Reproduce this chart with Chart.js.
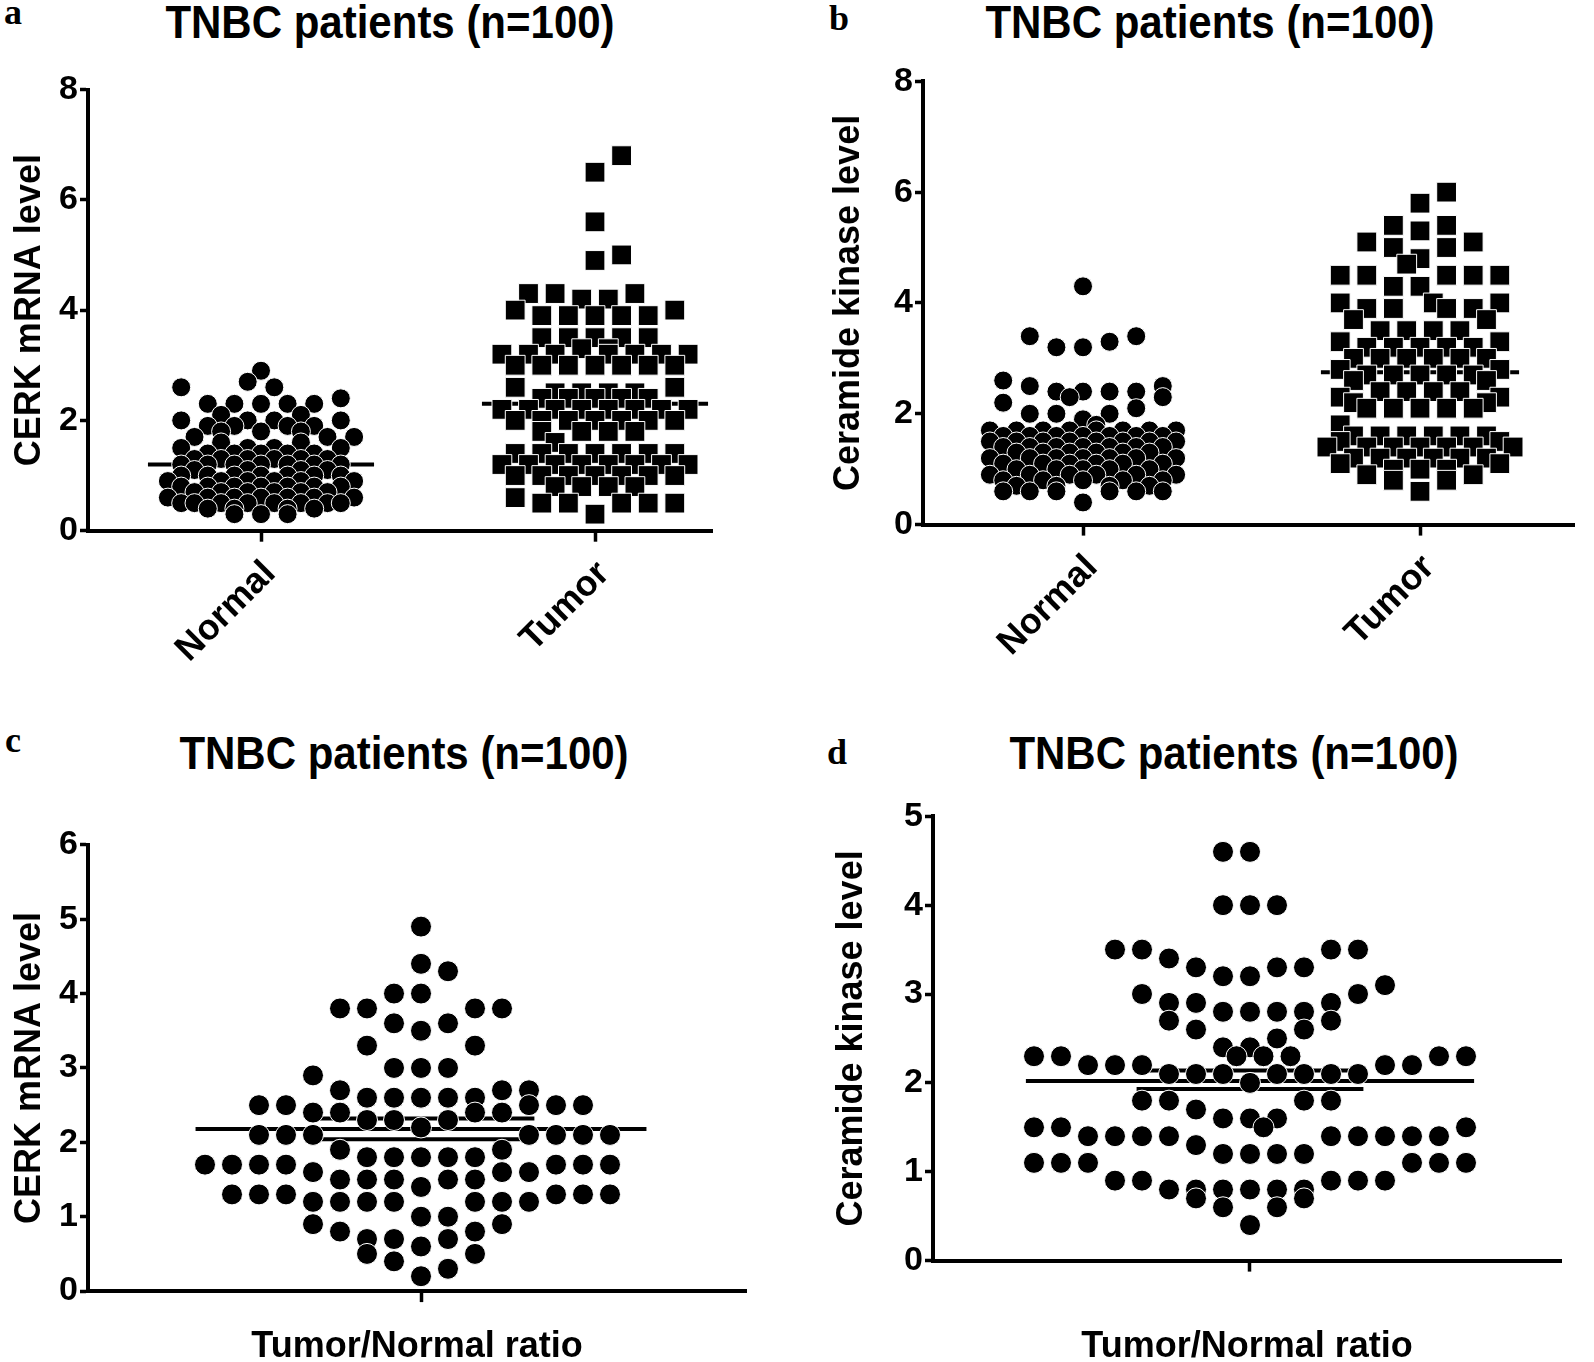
<!DOCTYPE html>
<html><head><meta charset="utf-8">
<script src="https://cdn.jsdelivr.net/npm/chart.js@4.4.0/dist/chart.umd.min.js"></script>
<style>
html,body{margin:0;padding:0;background:#fff;width:1594px;height:1362px;overflow:hidden;position:relative;}
canvas{position:absolute;}
.t{position:absolute;font-family:"Liberation Sans",Arial,sans-serif;font-weight:bold;font-size:46px;color:#000;white-space:nowrap;transform:translate(-50%,-50%) scale(0.913,1);}
.l{position:absolute;font-family:"Liberation Serif","Times New Roman",serif;font-weight:bold;font-size:36px;color:#000;transform:translate(-50%,-50%);}
</style></head><body>
<div class="l" style="left:13px;top:12px">a</div>
<div class="l" style="left:839px;top:18px">b</div>
<div class="l" style="left:13px;top:740px">c</div>
<div class="l" style="left:837px;top:752px">d</div>
<div class="t" style="left:390px;top:22px">TNBC patients (n=100)</div>
<div class="t" style="left:1210px;top:22px">TNBC patients (n=100)</div>
<div class="t" style="left:404px;top:753px">TNBC patients (n=100)</div>
<div class="t" style="left:1234px;top:753px">TNBC patients (n=100)</div>
<script>
// ---------------- DATA ----------------
const groups = ['Normal', 'Tumor'];

// Panel a: CERK mRNA level
const aYTicks = [0, 2, 4, 6, 8];
const aNormalValues = [
 2.9, 2.7, 2.6, 2.6, 2.4,
 2.3, 2.3, 2.3, 2.3, 2.3,
 2.1, 2.1, 2.0, 2.0, 2.0, 2.0,
 1.9, 1.9, 1.9, 1.9, 1.8, 1.8, 1.8,
 1.7, 1.7, 1.7, 1.6, 1.6, 1.5, 1.5, 1.5, 1.5,
 1.4, 1.4, 1.4, 1.4, 1.4,
 1.3, 1.3, 1.3, 1.3, 1.3, 1.3,
 1.2, 1.2, 1.2, 1.2, 1.2, 1.2, 1.2,
 1.1, 1.1, 1.1, 1.1,
 1.0, 1.0, 1.0, 1.0, 1.0, 1.0, 1.0,
 0.9, 0.9, 0.9, 0.9, 0.9, 0.9,
 0.8, 0.8, 0.8, 0.8, 0.8, 0.8, 0.8,
 0.7, 0.7, 0.7, 0.7, 0.7, 0.7,
 0.6, 0.6, 0.6, 0.6, 0.6, 0.6, 0.6,
 0.5, 0.5, 0.5, 0.5, 0.5, 0.5, 0.5, 0.5,
 0.4, 0.4, 0.4, 0.4, 0.3, 0.3, 0.3
];
const aNormalSlots = [
 0, -1, -6, 1, 6,
 -4, -2, 0, 2, 4,
 -3, 3, -6, -1, 1, 6,
 -4, -2, 2, 4, -3, 0, 3,
 -5, 5, 7, -3, 3, -6, -1, 1, 6,
 -4, -2, 0, 2, 4,
 -5, -3, -1, 1, 3, 5,
 -6, -4, -2, 0, 2, 4, 6,
 -5, -1, 3, 5,
 -6, -4, -2, 0, 2, 4, 6,
 -7, -3, -1, 1, 3, 7,
 -6, -4, -2, 0, 2, 4, 6,
 -5, -3, -1, 1, 3, 5,
 -7, -4, -2, 0, 2, 4, 7,
 -6, -5, -3, -1, 1, 3, 5, 6,
 -4, -2, 2, 4, -2, 0, 2
];
const aTumorValues = [
 6.8, 6.5, 5.6, 5.0, 4.9,
 4.3, 4.3, 4.3, 4.2, 4.2,
 4.0, 4.0, 3.9, 3.9, 3.9, 3.9, 3.9,
 3.5, 3.5, 3.5, 3.5, 3.5,
 3.3, 3.3, 3.2, 3.2, 3.2, 3.2, 3.2, 3.2, 3.2,
 3.0, 3.0, 3.0, 3.0, 3.0, 3.0, 3.0,
 2.6, 2.6, 2.5, 2.5, 2.5, 2.5,
 2.4, 2.4, 2.4, 2.4, 2.4,
 2.2, 2.2, 2.2, 2.2, 2.2, 2.2, 2.2, 2.2,
 2.0, 2.0, 2.0, 2.0, 2.0, 2.0, 2.0,
 1.8, 1.8, 1.8, 1.8, 1.6,
 1.4, 1.4, 1.4, 1.4, 1.4, 1.4, 1.4,
 1.2, 1.2, 1.2, 1.2, 1.2, 1.2, 1.2, 1.2,
 1.0, 1.0, 1.0, 1.0, 1.0, 1.0, 1.0,
 0.8, 0.8, 0.8, 0.8, 0.6, 0.5, 0.5, 0.5, 0.5, 0.5, 0.3
];
const aTumorSlots = [
 2, 0, 0, 2, 0,
 -5, -3, 3, -1, 1,
 -6, 6, -4, -2, 0, 2, 4,
 -4, -2, 0, 2, 4,
 -1, 1, -7, -5, -3, 1, 3, 5, 7,
 -6, -4, -2, 0, 2, 4, 6,
 -6, 6, -3, -1, 1, 3,
 -4, -2, 0, 2, 4,
 -7, -5, -3, -1, 1, 3, 5, 7,
 -6, -4, -2, 0, 2, 4, 6,
 -4, -1, 1, 3, -3,
 -6, -4, -2, 0, 2, 4, 6,
 -7, -5, -3, -1, 1, 3, 5, 7,
 -6, -4, -2, 0, 2, 4, 6,
 -3, -1, 1, 3, -6, -4, -2, 2, 4, 6, 0
];
const aMeans = [1.2, 2.3];

// Panel b: Ceramide kinase level
const bYTicks = [0, 2, 4, 6, 8];
const bNormalValues = [
 4.3, 3.4, 3.4, 3.3, 3.2, 3.2,
 2.6, 2.5, 2.5, 2.4, 2.4, 2.4, 2.4, 2.3, 2.3,
 2.2, 2.1, 2.0, 2.0, 2.0, 1.9, 1.8,
 1.7, 1.7, 1.7, 1.7, 1.7, 1.7, 1.7, 1.7,
 1.6, 1.6, 1.6, 1.6, 1.6, 1.6, 1.6,
 1.5, 1.5, 1.5, 1.5, 1.5, 1.5, 1.5, 1.5,
 1.4, 1.4, 1.4, 1.4, 1.4, 1.4, 1.4,
 1.3, 1.3, 1.3, 1.3, 1.3, 1.3,
 1.2, 1.2, 1.2, 1.2, 1.2, 1.2, 1.2,
 1.1, 1.1, 1.1, 1.1, 1.1, 1.1,
 1.0, 1.0, 1.0, 1.0, 1.0,
 0.9, 0.9, 0.9, 0.9, 0.9, 0.9,
 0.8, 0.8, 0.8, 0.8, 0.8,
 0.7, 0.7, 0.7, 0.7,
 0.6, 0.6, 0.6, 0.6, 0.6, 0.6,
 0.4
];
const bNormalSlots = [
 0, -4, 4, 2, -2, 0,
 -6, -4, 6, -2, 0, 2, 4, -1, 6,
 -6, 4, -4, -2, 2, 0, 1,
 -7, -5, -3, -1, 1, 3, 5, 7,
 -6, -4, -2, 0, 2, 4, 6,
 -7, -5, -3, -1, 1, 3, 5, 7,
 -6, -4, -2, 0, 2, 4, 6,
 -5, -3, -1, 1, 3, 5,
 -7, -4, -2, 0, 2, 4, 7,
 -6, -3, -1, 1, 3, 6,
 -5, -2, 0, 2, 5,
 -7, -4, -1, 1, 4, 7,
 -6, -3, 0, 3, 6,
 -5, -2, 2, 5,
 -6, -4, -2, 2, 4, 6,
 0
];
const bTumorValues = [
 6.0, 5.8, 5.4, 5.4, 5.3,
 5.1, 5.1, 5.0, 5.0, 4.8, 4.7,
 4.5, 4.5, 4.5, 4.5, 4.5,
 4.3, 4.3, 4.0, 4.0, 4.0,
 3.9, 3.9, 3.9, 3.9, 3.7, 3.7,
 3.5, 3.5, 3.5, 3.5, 3.3, 3.3,
 3.2, 3.2, 3.2, 3.2, 3.2,
 3.0, 3.0, 3.0, 3.0, 3.0, 3.0,
 2.8, 2.8, 2.7, 2.7, 2.7, 2.7, 2.7,
 2.6, 2.6, 2.4, 2.4, 2.4, 2.4,
 2.3, 2.3, 2.2, 2.2,
 2.1, 2.1, 2.1, 2.1, 2.1,
 1.8, 1.6, 1.6, 1.6, 1.6, 1.6, 1.6,
 1.5, 1.5, 1.4, 1.4, 1.4, 1.4, 1.4, 1.4, 1.4,
 1.2, 1.2, 1.2, 1.2, 1.2, 1.2,
 1.1, 1.1, 1.0, 1.0, 1.0,
 0.9, 0.9, 0.8, 0.8, 0.6
];
const bTumorSlots = [
 2, 0, -2, 2, 0,
 -4, 4, -2, 2, 0, -1,
 -6, -4, 2, 4, 6,
 -2, 0, -6, 1, 6,
 -4, -2, 2, 4, -5, 5,
 -3, -1, 1, 3, -6, 6,
 -4, -2, 0, 2, 4,
 -5, -3, -1, 1, 3, 5,
 -6, 6, -4, -2, 0, 2, 4,
 -5, 5, -3, -1, 1, 3,
 -6, 6, -5, 5,
 -4, -2, 0, 2, 4,
 -6, -5, -3, -1, 1, 3, 5,
 -6, 6, -7, -4, -2, 0, 2, 4, 7,
 -5, -3, -1, 1, 3, 5,
 -6, 6, -2, 0, 2,
 -4, 4, -2, 2, 0
];
const bMeans = [1.48, 2.75];

// Panel c: CERK mRNA level, Tumor/Normal ratio
const cYTicks = [0, 1, 2, 3, 4, 5, 6];
const cRatioValues = [
 4.9, 4.4, 4.3, 4.0, 4.0,
 3.8, 3.8, 3.8, 3.8, 3.6, 3.6, 3.5,
 3.3, 3.3, 3.0, 3.0, 3.0, 2.9,
 2.7, 2.7, 2.7, 2.6, 2.6, 2.6, 2.6, 2.6,
 2.5, 2.5, 2.5, 2.5, 2.5, 2.4, 2.4, 2.4, 2.4,
 2.3, 2.3, 2.3, 2.2,
 2.1, 2.1, 2.1, 2.1, 2.1, 2.1, 2.1,
 1.9, 1.9, 1.8, 1.8, 1.8, 1.8, 1.8,
 1.7, 1.7, 1.7, 1.7, 1.7, 1.7, 1.7,
 1.6, 1.6, 1.6, 1.5, 1.5, 1.5, 1.5, 1.5, 1.4,
 1.3, 1.3, 1.3, 1.3, 1.3, 1.3,
 1.2, 1.2, 1.2, 1.2, 1.2, 1.2, 1.2,
 1.0, 1.0, 0.9, 0.9, 0.8, 0.8,
 0.7, 0.7, 0.7, 0.6, 0.5, 0.5, 0.4, 0.3, 0.2
];
const cRatioSlots = [
 0, 0, 1, -1, 0,
 -3, -2, 2, 3, -1, 1, 0,
 -2, 2, -1, 0, 1, -4,
 -3, 3, 4, -2, -1, 0, 1, 2,
 -6, -5, 4, 5, 6, -4, -3, 2, 3,
 -2, -1, 1, 0,
 -6, -5, -4, 4, 5, 6, 7,
 -3, 3, -2, -1, 0, 1, 2,
 -8, -7, -6, -5, 5, 6, 7,
 -4, 3, 4, -3, -2, -1, 1, 2, 0,
 -7, -6, -5, 5, 6, 7,
 -4, -3, -2, -1, 2, 3, 4,
 0, 1, -4, 3, -3, 2,
 -2, -1, 1, 0, -2, 2, -1, 1, 0
];
const cMean = 2.18;
const cSemBounds = [2.04, 2.32];

// Panel d: Ceramide kinase level, Tumor/Normal ratio
const dYTicks = [0, 1, 2, 3, 4, 5];
const dRatioValues = [
 4.6, 4.6, 4.0, 4.0, 4.0,
 3.5, 3.5, 3.5, 3.5, 3.4, 3.3, 3.3, 3.3,
 3.2, 3.2, 3.1, 3.0, 3.0,
 2.9, 2.9, 2.9, 2.8, 2.8, 2.8, 2.8,
 2.7, 2.7, 2.6, 2.6, 2.5, 2.4, 2.4,
 2.3, 2.3, 2.3, 2.3, 2.3, 2.3, 2.3,
 2.2, 2.2, 2.2, 2.2, 2.2,
 2.1, 2.1, 2.1, 2.1, 2.1, 2.1, 2.1, 2.0,
 1.8, 1.8, 1.8, 1.8, 1.7, 1.6, 1.6, 1.6,
 1.5, 1.5, 1.5, 1.5,
 1.4, 1.4, 1.4, 1.4, 1.4, 1.4, 1.4, 1.4, 1.4,
 1.3, 1.2, 1.2, 1.2, 1.2,
 1.1, 1.1, 1.1, 1.1, 1.1, 1.1,
 0.9, 0.9, 0.9, 0.9, 0.9,
 0.8, 0.8, 0.8, 0.8, 0.8, 0.8,
 0.7, 0.7, 0.6, 0.6, 0.4
];
const dRatioSlots = [
 -1, 0, -1, 0, 1,
 -5, -4, 3, 4, -3, -2, 1, 2,
 -1, 0, 5, -4, 4,
 -3, -2, 3, -1, 0, 1, 2,
 -3, 3, -2, 2, 1, -1, 0,
 -8, -7, -0.5, 0.5, 1.5, 7, 8,
 -6, -5, -4, 5, 6,
 -3, -2, -1, 1, 2, 3, 4, 0,
 -4, -3, 2, 3, -2, -1, 0, 1,
 -8, -7, 0.5, 8,
 -6, -5, -4, -3, 3, 4, 5, 6, 7,
 -2, -1, 0, 1, 2,
 -8, -7, -6, 6, 7, 8,
 -5, -4, 3, 4, 5,
 -3, -2, -1, 0, 1, 2,
 -2, 2, -1, 1, 0
];
const dMean = 2.02;
const dSemBounds = [1.93, 2.14];

// ---------------- RENDERING ----------------
const FONT = '"Liberation Sans", Arial, Helvetica, sans-serif';
const BLACK = '#000';

function pts(values, slots, center, unit) {
  return values.map((v, i) => ({x: center + slots[i] * unit, y: v}));
}
function hline(y, c, half, unit, w) {
  return {data: [{x: c - half * unit, y: y}, {x: c + half * unit, y: y}], showLine: true,
    borderColor: BLACK, borderWidth: w, pointRadius: 0, order: 2};
}
function dots(data, style, r) {
  return {data: data, pointStyle: style, pointRadius: r, backgroundColor: BLACK,
    borderColor: '#fff', borderWidth: 1, order: 1};
}

function panel(geo, cfg) {
  const [cl, ct, cw, ch] = geo.canvas;
  const [al, at, ar, ab] = geo.area;
  const cv = document.createElement('canvas');
  cv.width = cw; cv.height = ch;
  cv.style.left = cl + 'px'; cv.style.top = ct + 'px';
  document.body.appendChild(cv);
  const yW = al - cl, padTop = at - ct, padRight = cl + cw - ar, xH = ct + ch - ab;
  new Chart(cv, {
    type: 'scatter',
    data: {datasets: cfg.datasets},
    options: {
      responsive: false, animation: false, events: [],
      layout: {padding: {left: 0, top: padTop, right: padRight, bottom: 0}},
      plugins: {legend: {display: false}, tooltip: {enabled: false}},
      scales: {
        x: {
          type: 'linear', min: cfg.xMin, max: cfg.xMax,
          afterFit: s => { s.height = xH; },
          afterBuildTicks: s => { s.ticks = cfg.xTicks.map(v => ({value: v})); },
          ticks: {callback: (v, i) => cfg.xLabels[i], autoSkip: false,
            minRotation: cfg.rot, maxRotation: cfg.rot, padding: 11, labelOffset: 9,
            color: BLACK, font: {family: FONT, size: 36, weight: 'bold'}},
          grid: {drawOnChartArea: false, drawTicks: true, tickLength: 11, tickWidth: 3.5, tickColor: BLACK, color: BLACK},
          border: {display: true, color: BLACK, width: 4},
          title: cfg.xTitle ? {display: true, text: cfg.xTitle, color: BLACK,
            font: {family: FONT, size: 36, weight: 'bold'}, padding: {top: 0, bottom: cfg.xTitlePad}} : {display: false}
        },
        y: {
          type: 'linear', min: cfg.yTicks[0], max: cfg.yTicks[cfg.yTicks.length - 1],
          afterFit: s => { s.width = yW; },
          afterBuildTicks: s => { s.ticks = cfg.yTicks.map(v => ({value: v})); },
          ticks: {color: BLACK, padding: 2, font: {family: FONT, size: 34, weight: 'bold'}},
          grid: {drawOnChartArea: false, drawTicks: true, tickLength: 8, tickWidth: 3.5, tickColor: BLACK, color: BLACK},
          border: {display: true, color: BLACK, width: 4},
          title: {display: true, text: cfg.yTitle, color: BLACK,
            font: {family: FONT, size: 36, weight: 'bold'}, padding: {top: cfg.yTitlePad, bottom: 0}}
        }
      }
    }
  });
}

// two-group panels (a, b): group centers at 0 and 1
function groupPanel(geo, tickPx, slotPx, o) {
  const span = tickPx[1] - tickPx[0];
  const u = slotPx / span;
  const ds = [
    hline(o.means[0], 0, o.half, u, 4),
    hline(o.means[1], 1, o.half, u, 4),
    dots(pts(o.nV, o.nS, 0, u), 'circle', 9.5),
    dots(pts(o.tV, o.tS, 1, u), 'rect', 14)
  ];
  panel(geo, {
    datasets: ds,
    xMin: (geo.area[0] - tickPx[0]) / span, xMax: (geo.area[2] - tickPx[0]) / span,
    xTicks: [0, 1], xLabels: groups, rot: 45,
    yTicks: o.yTicks, yTitle: o.yTitle, yTitlePad: o.yTitlePad
  });
}

// single-group panels (c, d)
function ratioPanel(geo, tickPx, slotPx, o) {
  const ds = [
    hline(o.mean, 0, o.half, 1, 4),
    hline(o.sem[0], 0, o.semHalf, 1, 4),
    hline(o.sem[1], 0, o.semHalf, 1, 4),
    dots(pts(o.v, o.s, 0, 1), 'circle', 10.5)
  ];
  panel(geo, {
    datasets: ds,
    xMin: (geo.area[0] - tickPx) / slotPx, xMax: (geo.area[2] - tickPx) / slotPx,
    xTicks: [0], xLabels: [''], rot: 0,
    xTitle: 'Tumor/Normal ratio', xTitlePad: 1.4,
    yTicks: o.yTicks, yTitle: o.yTitle, yTitlePad: o.yTitlePad
  });
}

groupPanel({canvas: [0, 50, 760, 640], area: [88, 89.5, 712, 530.7]}, [261, 595], 13.3, {
  nV: aNormalValues, nS: aNormalSlots, tV: aTumorValues, tS: aTumorSlots,
  means: aMeans, half: 8.5, yTicks: aYTicks, yTitle: 'CERK mRNA level', yTitlePad: 8.9
});
groupPanel({canvas: [800, 50, 794, 640], area: [923, 81.3, 1574, 524.6]}, [1083, 1420], 13.3, {
  nV: bNormalValues, nS: bNormalSlots, tV: bTumorValues, tS: bTumorSlots,
  means: bMeans, half: 7.45, yTicks: bYTicks, yTitle: 'Ceramide kinase level', yTitlePad: 27.4
});
ratioPanel({canvas: [0, 790, 780, 580], area: [88, 844.8, 746, 1291.1]}, 421, 27, {
  v: cRatioValues, s: cRatioSlots, mean: cMean, sem: cSemBounds, half: 8.35, semHalf: 4.2,
  yTicks: cYTicks, yTitle: 'CERK mRNA level', yTitlePad: 8.9
});
ratioPanel({canvas: [800, 790, 794, 580], area: [933, 816.3, 1561, 1260.6]}, 1250, 27, {
  v: dRatioValues, s: dRatioSlots, mean: dMean, sem: dSemBounds, half: 8.3, semHalf: 4.2,
  yTicks: dYTicks, yTitle: 'Ceramide kinase level', yTitlePad: 30.4
});
</script>
</body></html>
